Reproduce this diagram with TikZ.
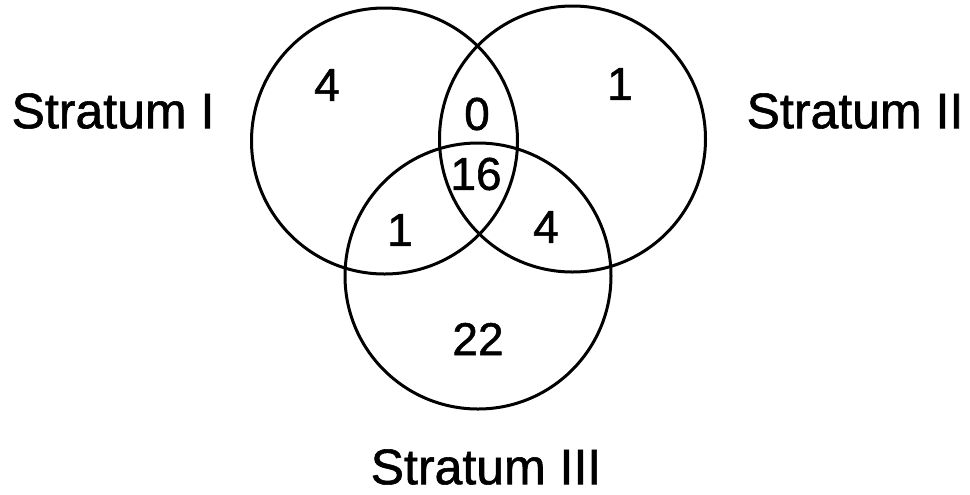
\documentclass[tikz,border=0pt]{standalone}
\usepackage{fontspec}
\setmainfont{Liberation Sans}
\newfontfamily\medfont{Liberation Sans}[FakeBold=1.2]
\begin{document}
\begin{tikzpicture}[x=0.5pt,y=-0.5pt,
  setcircle/.style={draw, circle, minimum size=133pt, inner sep=0pt, line width=1.5pt},
  stratlabel/.style={font=\medfont\fontsize{25}{29}\selectfont, inner sep=0pt},
  countlabel/.style={font=\medfont\fontsize{23}{27}\selectfont, inner sep=0pt}]
\useasboundingbox (0,0) rectangle (970,494);
\node[setcircle] (cI) at (384.5,141) {};
\node[setcircle] (cII) at (572.5,139) {};
\node[setcircle] (cIII) at (478,276) {};
\node[stratlabel] (lI) at (113,111) {Stratum I};
\node[stratlabel] (lII) at (855,111) {Stratum II};
\node[stratlabel] (lIII) at (486,467) {Stratum III};
\node[countlabel] (nI) at (327,85) {4};
\node[countlabel] (nII) at (620,84) {1};
\node[countlabel] (nIII) at (478,339) {22};
\node[countlabel] (nIxII) at (477,114) {0};
\node[countlabel] (nIxIII) at (400,230) {1};
\node[countlabel] (nIIxIII) at (546,227) {4};
\node[countlabel] (nAll) at (476,174) {16};
\end{tikzpicture}
\end{document}
